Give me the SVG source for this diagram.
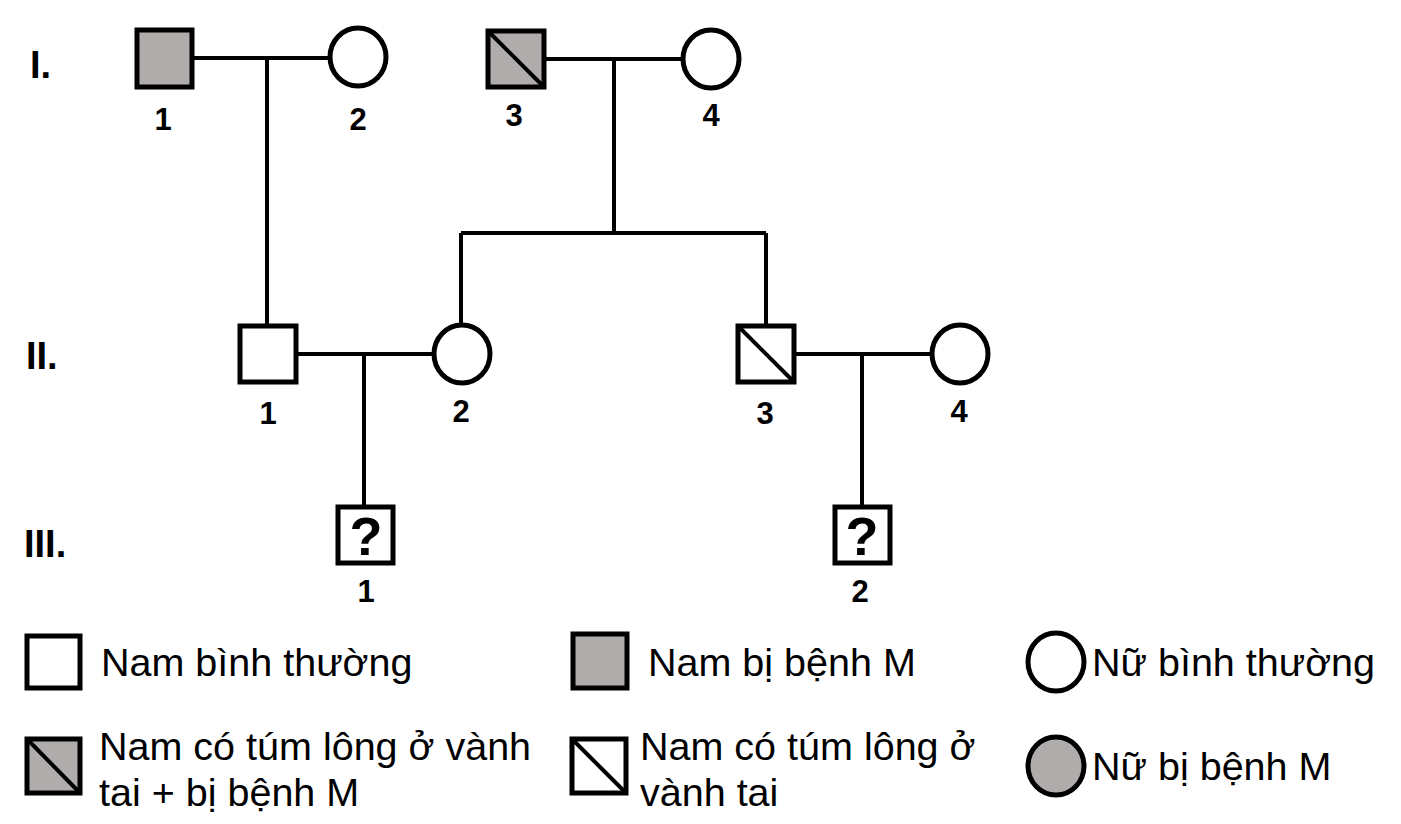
<svg xmlns="http://www.w3.org/2000/svg" width="1401" height="824" viewBox="0 0 1401 824">
<style>
.s{fill:#fff;stroke:#000;stroke-width:5}
.a{fill:#b0acab;stroke:#000;stroke-width:5}
.l{stroke:#000;stroke-width:4;fill:none}
.d{stroke:#000;stroke-width:4}
.g{font-family:"Liberation Sans",Arial,sans-serif;font-weight:bold;font-size:38px}
.n{font-family:"Liberation Sans",Arial,sans-serif;font-weight:bold;font-size:31px;text-anchor:middle}
.q{font-family:"Liberation Sans",Arial,sans-serif;font-weight:bold;font-size:54px;text-anchor:middle}
.t{font-family:"Liberation Sans",Arial,sans-serif;font-size:39.5px}
</style>
<rect width="1401" height="824" fill="#fff"/>
<g id="gen-labels">
<text class="g" x="30" y="78">I.</text>
<text class="g" x="26" y="369">II.</text>
<text class="g" x="24" y="557">III.</text>
</g>
<g id="connectors">
<path class="l" d="M192 58H331M267 58V326"/>
<path class="l" d="M544 59H683M614 59V233M461 233H766M461 233V326M766 233V326"/>
<path class="l" d="M296 354H434M364 354V507"/>
<path class="l" d="M794 354H932M862 354V507"/>
</g>
<g id="I-1"><rect class="a" x="137" y="30" width="55" height="57"/><text class="n" x="163" y="130">1</text></g>
<g id="I-2"><ellipse class="s" cx="358" cy="57" rx="28" ry="29"/><text class="n" x="358" y="130">2</text></g>
<g id="I-3"><rect class="a" x="488" y="31" width="56" height="56"/><line class="d" x1="488" y1="31" x2="544" y2="87"/><text class="n" x="514" y="126">3</text></g>
<g id="I-4"><ellipse class="s" cx="711" cy="59" rx="28" ry="29"/><text class="n" x="711" y="126">4</text></g>
<g id="II-1"><rect class="s" x="240" y="326" width="56" height="56"/><text class="n" x="268" y="424">1</text></g>
<g id="II-2"><ellipse class="s" cx="462" cy="354" rx="28" ry="29"/><text class="n" x="461" y="422">2</text></g>
<g id="II-3"><rect class="s" x="738" y="326" width="56" height="56"/><line class="d" x1="738" y1="326" x2="794" y2="382"/><text class="n" x="765" y="424">3</text></g>
<g id="II-4"><ellipse class="s" cx="960" cy="354" rx="28" ry="29"/><text class="n" x="959" y="422">4</text></g>
<g id="III-1"><rect class="s" x="338" y="507" width="55" height="56"/><text class="q" x="366" y="555">?</text><text class="n" x="366" y="602">1</text></g>
<g id="III-2"><rect class="s" x="835" y="507" width="55" height="56"/><text class="q" x="862" y="555">?</text><text class="n" x="860" y="602">2</text></g>
<g id="legend">
<rect class="s" x="27" y="636" width="53" height="52"/><text class="t" x="101" y="676">Nam bình thường</text>
<rect class="a" x="573" y="634" width="54" height="54"/><text class="t" x="648" y="676">Nam bị bệnh M</text>
<ellipse class="s" cx="1056" cy="662" rx="28" ry="29"/><text class="t" x="1092" y="676">Nữ bình thường</text>
<rect class="a" x="27" y="739" width="53" height="54"/><line class="d" x1="27" y1="739" x2="80" y2="793"/>
<text class="t" x="99" y="760">Nam có túm lông ở vành</text><text class="t" x="99" y="806">tai + bị bệnh M</text>
<rect class="s" x="572" y="739" width="54" height="54"/><line class="d" x1="572" y1="739" x2="626" y2="793"/>
<text class="t" x="640" y="760">Nam có túm lông ở</text><text class="t" x="640" y="806">vành tai</text>
<ellipse class="a" cx="1056" cy="766" rx="28" ry="29"/><text class="t" x="1092" y="780">Nữ bị bệnh M</text>
</g>
</svg>
